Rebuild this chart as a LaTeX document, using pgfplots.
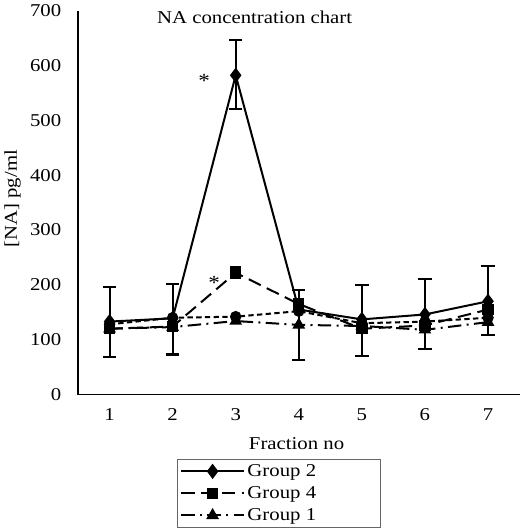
\documentclass[border=0pt]{standalone}
\usepackage{pgfplots}
\usepackage{pgfplotstable}
\pgfplotsset{compat=1.18}
\usepackage{fontspec}
\setmainfont{Liberation Serif}[FakeStretch=1.15]

\pgfplotstableread{
x g2 ep em g4 g1 g3
1 133 63 64 120 120 128
2 139 62 66 124 123 140
3 582 65 61 222 134 142
4 155 35 92 165 127 152
5 137 63 66 120 125 130
6 146 64 63 126 118 133
7 170 65 62 155 132 140
}\data

\begin{document}
\begin{tikzpicture}
\begin{axis}[
  scale only axis, width=330pt, height=287pt,
  xmin=0.5, xmax=7.5, ymin=0, ymax=700,
  xtick={1,...,7}, ytick={0,100,...,700},
  axis x line*=bottom, axis y line*=left,
  major tick length=0pt,
  axis line style={line width=0.8pt,-},
  tick label style={font=\fontsize{13.5}{16}\selectfont},
  yticklabel style={xshift=-9pt},
  xticklabel style={yshift=-7pt},
  /pgf/number format/assume math mode=true,
  ylabel={[NA] pg/ml},
  xlabel={Fraction no},
  every axis y label/.style={at={(axis description cs:-0.148,0.51)},rotate=90,anchor=center,font=\fontsize{13.5}{16}\selectfont},
  every axis x label/.style={at={(axis description cs:0.495,-0.128)},anchor=center,font=\fontsize{13.5}{16}\selectfont},
  legend style={at={(rel axis cs:0.225,-0.167)},anchor=north west,
    draw=black!60, line width=0.5pt, font=\fontsize{13.5}{16}\selectfont,
    row sep=2pt, inner sep=2pt, column sep=0pt},
  legend cell align=left,
  legend image code/.code={
    \draw[#1,mark repeat=2,mark phase=2] plot coordinates {(0cm,0cm)(0.82cm,0cm)(1.64cm,0cm)};
  },
  clip=false,
]
\addplot[black, line width=1.5pt, mark=diamond*, mark size=4.5pt, mark options={solid},
  error bars/.cd, y dir=both, y explicit,
  error bar style={line width=1.5pt, solid},
  error mark options={rotate=90, mark size=5pt, line width=1.5pt}]
  table[x=x, y=g2, y error plus=ep, y error minus=em] {\data};
\addlegendentry{Group 2\rule{44pt}{0pt}}
\addplot[black, line width=1.5pt, dash pattern=on 10pt off 5pt, mark=square*, mark size=3.5pt, mark options={solid}]
  table[x=x, y=g4] {\data};
\addlegendentry{Group 4\rule{44pt}{0pt}}
\addplot[black, line width=1.5pt, dash pattern=on 10pt off 4pt on 1.5pt off 4pt, mark=triangle*, mark size=4pt, mark options={solid}]
  table[x=x, y=g1] {\data};
\addlegendentry{Group 1\rule{44pt}{0pt}}
\addplot[black, line width=1.5pt, dash pattern=on 4pt off 2.5pt, mark=*, mark size=3.5pt, mark options={solid}, forget plot]
  table[x=x, y=g3] {\data};
\addplot[black, only marks, mark=square*, mark size=3.5pt, forget plot,
  error bars/.cd, y dir=both, y explicit,
  error bar style={line width=1.2pt, solid},
  error mark options={rotate=90, mark size=4pt, line width=1.2pt}]
  coordinates {(3,222) +- (0,10)};
\node[font=\fontsize{13.5}{16}\selectfont] at (rel axis cs:0.40,0.982) {NA concentration chart};
\node[font=\fontsize{15}{17}\selectfont] at (axis cs:2.5,572) {*};
\node[font=\fontsize{15}{17}\selectfont] at (axis cs:2.66,204) {*};
\end{axis}
\end{tikzpicture}
\end{document}
